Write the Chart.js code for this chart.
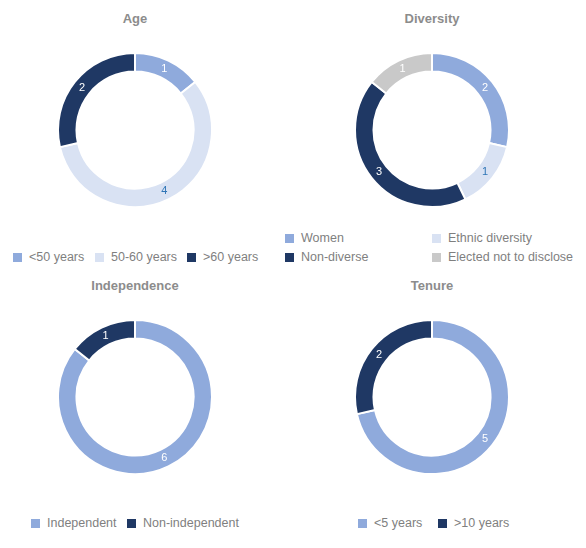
<!DOCTYPE html>
<html><head><meta charset="utf-8">
<script src="https://cdn.jsdelivr.net/npm/chart.js@4"></script>
<style>
body{margin:0;width:586px;height:548px;background:#fff;font-family:"Liberation Sans",Arial,sans-serif;position:relative;overflow:hidden}
.t{position:absolute;font-weight:bold;font-size:13px;color:#8c8c8c;text-align:center;width:200px}
.c{position:absolute;width:156px;height:156px}
.l{position:absolute;font-size:12.5px;color:#7f7f7f;white-space:nowrap;line-height:14px}
.l i{display:inline-block;width:9px;height:9px;margin-right:7px;vertical-align:-1px}
</style></head><body>
<div class="t" style="left:35px;top:11px">Age</div>
<div class="t" style="left:332px;top:11px">Diversity</div>
<div class="t" style="left:35px;top:278px">Independence</div>
<div class="t" style="left:332px;top:278px">Tenure</div>
<div class="c" style="left:57px;top:52px"><canvas id="age"></canvas></div>
<div class="c" style="left:354px;top:52px"><canvas id="div"></canvas></div>
<div class="c" style="left:57px;top:319px"><canvas id="ind"></canvas></div>
<div class="c" style="left:354px;top:319px"><canvas id="ten"></canvas></div>
<div id="legends"></div>
<script>
const LIGHT = "#8faadc", PALE = "#d9e2f3", DARK = "#1f3864", GREY = "#c9c9c9";

const ageLabels = ["<50 years", "50-60 years", ">60 years"];
const ageValues = [1, 4, 2];
const diversityLabels = ["Women", "Ethnic diversity", "Non-diverse", "Elected not to disclose"];
const diversityValues = [2, 1, 3, 1];
const independenceLabels = ["Independent", "Non-independent"];
const independenceValues = [6, 1];
const tenureLabels = ["<5 years", ">10 years"];
const tenureValues = [5, 2];

// number inside each ring segment
const segLabels = {
  id: "segLabels",
  afterDatasetsDraw(chart) {
    const ctx = chart.ctx;
    const ds = chart.data.datasets[0];
    chart.getDatasetMeta(0).data.forEach((arc, i) => {
      const p = arc.tooltipPosition();
      ctx.save();
      ctx.font = "11px 'Liberation Sans', Arial";
      ctx.fillStyle = ds.backgroundColor[i] === PALE ? "#2e75b6" : "#fff";
      ctx.textAlign = "center";
      ctx.textBaseline = "middle";
      ctx.fillText(ds.data[i], p.x, p.y);
      ctx.restore();
    });
  }
};

function ring(id, labels, values, colors) {
  new Chart(document.getElementById(id), {
    type: "doughnut",
    data: { labels, datasets: [{ data: values, backgroundColor: colors, borderColor: "#fff", borderWidth: 2 }] },
    options: {
      responsive: true, maintainAspectRatio: false, animation: false, cutout: "76%",
      layout: { padding: 0 },
      plugins: { legend: { display: false }, tooltip: { enabled: false } }
    },
    plugins: [segLabels]
  });
}
ring("age", ageLabels, ageValues, [LIGHT, PALE, DARK]);
ring("div", diversityLabels, diversityValues, [LIGHT, PALE, DARK, GREY]);
ring("ind", independenceLabels, independenceValues, [LIGHT, DARK]);
ring("ten", tenureLabels, tenureValues, [LIGHT, DARK]);

function legend(labels, colors, spots) {
  labels.forEach((lab, i) => {
    const d = document.createElement("div");
    d.className = "l";
    d.style.left = spots[i][0] + "px";
    d.style.top = spots[i][1] + "px";
    d.innerHTML = '<i style="background:' + colors[i] + '"></i>';
    d.appendChild(document.createTextNode(lab));
    document.getElementById("legends").appendChild(d);
  });
}
legend(ageLabels, [LIGHT, PALE, DARK], [[13, 250], [95, 250], [187, 250]]);
legend(diversityLabels, [LIGHT, PALE, DARK, GREY], [[285, 231], [432, 231], [285, 250], [432, 250]]);
legend(independenceLabels, [LIGHT, DARK], [[31, 516], [127, 516]]);
legend(tenureLabels, [LIGHT, DARK], [[358, 516], [438, 516]]);
</script>
</body></html>
